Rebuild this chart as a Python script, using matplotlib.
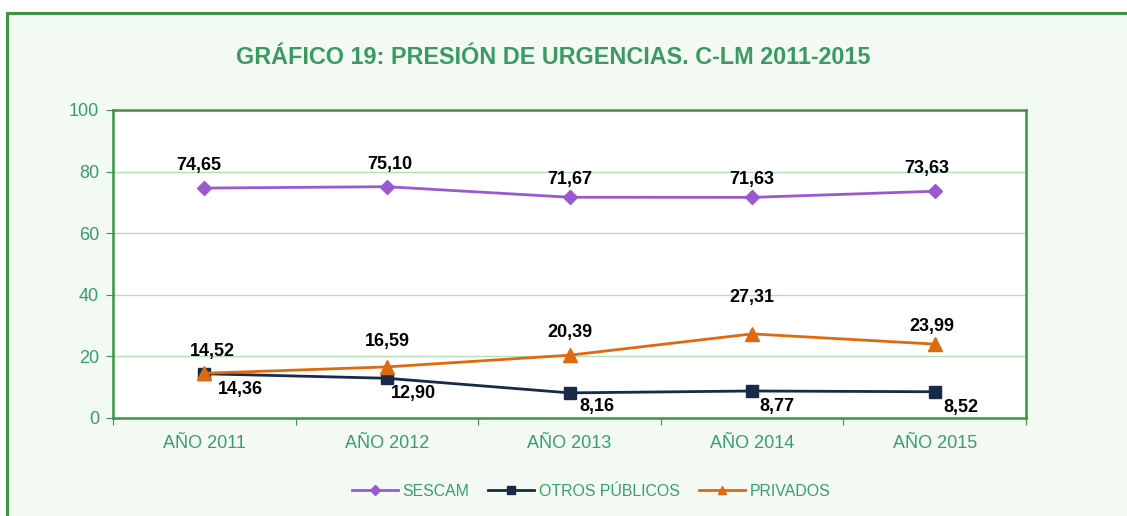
import matplotlib
matplotlib.use("Agg")
import matplotlib.pyplot as plt
from matplotlib.patches import Rectangle
from matplotlib.lines import Line2D

categories = ["AÑO 2011", "AÑO 2012", "AÑO 2013", "AÑO 2014", "AÑO 2015"]
sescam = [74.65, 75.10, 71.67, 71.63, 73.63]
otros = [14.36, 12.90, 8.16, 8.77, 8.52]
privados = [14.52, 16.59, 20.39, 27.31, 23.99]
series_names = ["SESCAM", "OTROS PÚBLICOS", "PRIVADOS"]
yticks = [0, 20, 40, 60, 80, 100]
title = "GRÁFICO 19: PRESIÓN DE URGENCIAS. C-LM 2011-2015"

plt.rcParams['font.family'] = ['Liberation Sans', 'DejaVu Sans']

W, H = 1127, 516
fig = plt.figure(figsize=(W / 100, H / 100), dpi=100)
fig.patch.set_facecolor("white")

green_txt = "#3A9E68"
frame_green = "#3A963F"
# outer frame
frame = Rectangle((7 / W, -0.2), 1.2, 0.2 + (1 - 13 / H), transform=fig.transFigure,
                  facecolor="#F3F9F3", edgecolor=frame_green, linewidth=2.2, zorder=-10)
fig.patches.append(frame)

ax = fig.add_axes([113 / W, 1 - 418 / H, (1026 - 113) / W, (418 - 110) / H])
ax.set_zorder(5)
ax.set_facecolor("white")
for s in ax.spines.values():
    s.set_color(frame_green)
    s.set_linewidth(1.8)

x = list(range(len(categories)))
c_ses = "#9B59D0"
c_otr = "#182A48"
c_pri = "#E0690E"
ax.plot(x, sescam, color=c_ses, lw=2, marker="D", ms=7, zorder=3)
ax.plot(x, otros, color=c_otr, lw=2, marker="s", ms=9, zorder=3)
ax.plot(x, privados, color=c_pri, lw=2, marker="^", ms=10, zorder=4)

ax.set_xlim(-0.5, len(categories) - 0.5)
ax.set_ylim(0, 100)
ax.set_yticks(yticks)
ax.set_yticklabels([str(v) for v in yticks])
ax.yaxis.grid(True, color="#B5DDB8", lw=1)
ax.set_axisbelow(True)
ax.tick_params(axis="y", length=5, color=frame_green, pad=5, labelsize=13, labelcolor=green_txt)

ax.set_xticks([i - 0.5 for i in range(len(categories) + 1)])
ax.set_xticklabels([])
ax.set_xticks(x, minor=True)
ax.set_xticklabels(categories, minor=True)
ax.tick_params(axis="x", which="major", length=5, color=frame_green)
ax.tick_params(axis="x", which="minor", length=0, pad=12, labelsize=13, labelcolor=green_txt)

def fmt(v):
    return f"{v:.2f}".replace(".", ",")

lab_kw = dict(textcoords="offset points", fontsize=13, fontweight="bold", color="black",
              ha="center", va="center")
ses_off = [(-4, 16), (2, 16), (0, 13), (0, 13), (-6, 16)]
for xi, v, o in zip(x, sescam, ses_off):
    ax.annotate(fmt(v), (xi, v), xytext=o, **lab_kw)
otr_off = [(26, -11), (19, -11), (20, -10), (18, -11), (19, -11)]
for xi, v, o in zip(x, otros, otr_off):
    ax.annotate(fmt(v), (xi, v), xytext=o, **lab_kw)
pri_off = [(6, 16), (0, 18), (0, 16), (0, 26), (-2, 13)]
for xi, v, o in zip(x, privados, pri_off):
    ax.annotate(fmt(v), (xi, v), xytext=o, **lab_kw)

handles = [
    Line2D([], [], color=c_ses, lw=2, marker="D", ms=5),
    Line2D([], [], color=c_otr, lw=2, marker="s", ms=6),
    Line2D([], [], color=c_pri, lw=2, marker="^", ms=6),
]
leg = fig.legend(handles, series_names, loc="center", bbox_to_anchor=(591 / W, 1 - 491 / H),
                 ncol=3, frameon=False, fontsize=11.4, handlelength=2.9, columnspacing=1.2,
                 handletextpad=0.3)
for t in leg.get_texts():
    t.set_color(green_txt)

fig.text(553 / W, 1 - 58 / H, title, ha="center", va="center", fontsize=16.8,
         fontweight="bold", color="#3A9A62")

fig.savefig("out.png", dpi=100, facecolor=fig.get_facecolor())
